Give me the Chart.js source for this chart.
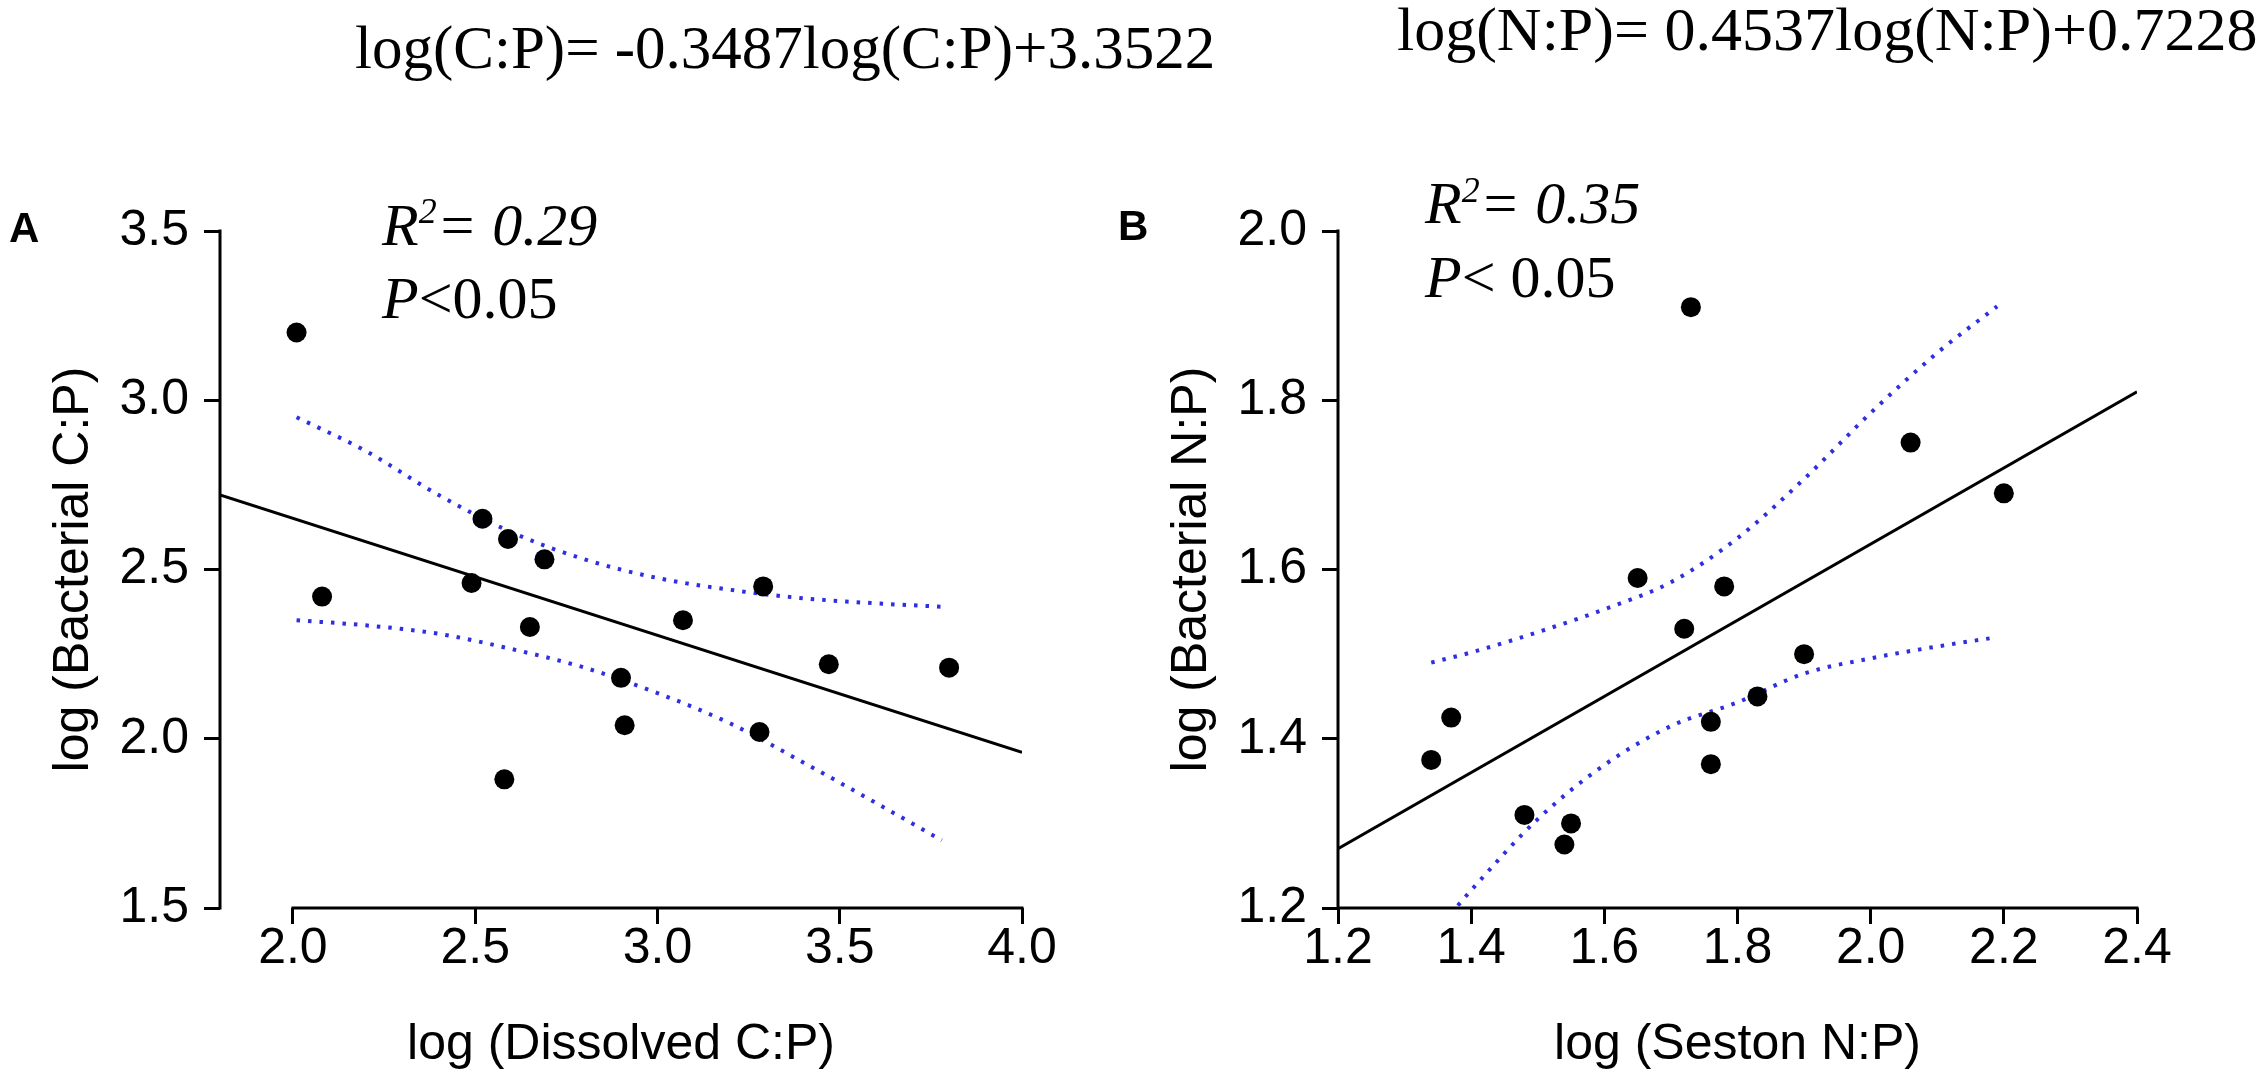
<!DOCTYPE html>
<html>
<head>
<meta charset="utf-8">
<script src="https://cdn.jsdelivr.net/npm/chart.js@4.4.1/dist/chart.umd.min.js"></script>
<style>
  html, body { margin: 0; padding: 0; background: #fff; }
  body { width: 2267px; height: 1085px; position: relative; overflow: hidden; }
  .panel { position: absolute; top: 0; height: 1085px; }
  #boxA { left: 0; width: 1240px; }
  #boxB { left: 1100px; width: 1167px; }
</style>
</head>
<body>
<div class="panel" id="boxA"><canvas id="chartA"></canvas></div>
<div class="panel" id="boxB"><canvas id="chartB"></canvas></div>
<script>
// Panel A: log dissolved C:P vs log bacterial C:P
var dissolvedCP = [2.01, 2.08, 2.52, 2.59, 2.69, 2.49, 2.65, 2.58, 3.07, 3.29, 2.90, 2.91, 3.28, 3.47, 3.80];
var bacterialCP = [3.20, 2.42, 2.65, 2.59, 2.53, 2.46, 2.33, 1.88, 2.35, 2.45, 2.18, 2.04, 2.02, 2.22, 2.21];
var fitAx = [1.8, 4.0];
var fitAy = [2.72, 1.96];
var bandAx = [2.01, 2.2, 2.4, 2.6, 2.8, 3.0, 3.2, 3.4, 3.6, 3.78];
var bandAupper = [2.95, 2.85, 2.72, 2.61, 2.53, 2.475, 2.44, 2.415, 2.40, 2.39];
var bandAlower = [2.35, 2.335, 2.31, 2.265, 2.21, 2.135, 2.045, 1.93, 1.81, 1.70];
var xTicksA = [2.0, 2.5, 3.0, 3.5, 4.0];
var yTicksA = [1.5, 2.0, 2.5, 3.0, 3.5];

// Panel B: log seston N:P vs log bacterial N:P
var sestonNP = [1.73, 2.06, 2.20, 1.65, 1.78, 1.72, 1.90, 1.83, 1.76, 1.76, 1.37, 1.34, 1.48, 1.55, 1.54];
var bacterialNP = [1.91, 1.75, 1.69, 1.59, 1.58, 1.53, 1.50, 1.45, 1.42, 1.37, 1.425, 1.375, 1.31, 1.30, 1.275];
var fitBx = [1.2, 2.4];
var fitBy = [1.27, 1.81];
var bandBxUp = [1.34, 1.4, 1.5, 1.6, 1.7, 1.8, 1.9, 2.0, 2.1, 2.19];
var bandBupper = [1.49, 1.502, 1.526, 1.553, 1.585, 1.637, 1.707, 1.785, 1.856, 1.911];
var bandBxLow = [1.38, 1.4, 1.5, 1.6, 1.7, 1.8, 1.9, 2.0, 2.1, 2.19];
var bandBlower = [1.203, 1.221, 1.305, 1.369, 1.415, 1.443, 1.477, 1.495, 1.509, 1.52];
var xTicksB = [1.2, 1.4, 1.6, 1.8, 2.0, 2.2, 2.4];
var yTicksB = [1.2, 1.4, 1.6, 1.8, 2.0];

var SANS = "'Liberation Sans', Arial, sans-serif";
var SERIF = "'Liberation Serif', 'Times New Roman', serif";
var BLUE = '#2f2fe0';

Chart.defaults.font.family = SANS;
Chart.defaults.color = '#000';

function pts(xs, ys) {
  return xs.map(function (x, i) { return { x: x, y: ys[i] }; });
}

// R-style axis lines: only from the first to the last tick
var axisLines = {
  id: 'axisLines',
  beforeDatasetsDraw: function (chart) {
    var ctx = chart.ctx, area = chart.chartArea;
    var x = chart.scales.x, y = chart.scales.y;
    ctx.save();
    ctx.strokeStyle = '#000';
    ctx.lineWidth = 3;
    ctx.lineCap = 'square';
    ctx.beginPath();
    ctx.moveTo(x.getPixelForValue(x.ticks[0].value), area.bottom);
    ctx.lineTo(x.getPixelForValue(x.ticks[x.ticks.length - 1].value), area.bottom);
    ctx.moveTo(area.left, y.getPixelForValue(y.ticks[0].value));
    ctx.lineTo(area.left, y.getPixelForValue(y.ticks[y.ticks.length - 1].value));
    ctx.stroke();
    ctx.restore();
  }
};

// free text (equations, panel letters, R2 and P)
var notes = {
  id: 'notes',
  afterDraw: function (chart, args, opts) {
    var ctx = chart.ctx;
    ctx.save();
    ctx.fillStyle = '#000';
    ctx.textAlign = 'left';
    ctx.textBaseline = 'alphabetic';
    (opts.items || []).forEach(function (item) {
      var x = item.x;
      item.runs.forEach(function (r) {
        ctx.font = r.font;
        ctx.fillText(r.text, x, item.y + (r.dy || 0));
        x += ctx.measureText(r.text).width;
      });
    });
    ctx.restore();
  }
};

function axis(min, max, ticks, title, size, titlePad, isX) {
  var o = {
    type: 'linear',
    min: min,
    max: max,
    afterBuildTicks: function (s) { s.ticks = ticks.map(function (v) { return { value: v }; }); },
    ticks: {
      autoSkip: false,
      maxRotation: 0,
      padding: isX ? 0 : 15,
      font: { size: 50, lineHeight: 1 },
      callback: function (v) { return Number(v).toFixed(1); }
    },
    grid: {
      drawOnChartArea: false,
      drawTicks: true,
      tickLength: 16,
      tickWidth: 3,
      tickColor: '#000',
      lineWidth: 3,
      color: '#000'
    },
    border: { display: false },
    title: { display: true, text: title, font: { size: 50 }, padding: titlePad }
  };
  if (isX) {
    o.afterFit = function (s) { s.height = size; };
  } else {
    o.afterFit = function (s) { s.width = size; };
  }
  return o;
}

function makeChart(id, cfg) {
  return new Chart(document.getElementById(id), {
    type: 'scatter',
    data: {
      datasets: [
        { data: cfg.points, pointRadius: 10, pointBackgroundColor: '#000', pointBorderWidth: 0, showLine: false },
        { data: cfg.fit, showLine: true, pointRadius: 0, borderColor: '#000', borderWidth: 3 },
        { data: cfg.upper, showLine: true, pointRadius: 0, borderColor: BLUE, borderWidth: 4,
          borderDash: [3.5, 8], cubicInterpolationMode: 'monotone' },
        { data: cfg.lower, showLine: true, pointRadius: 0, borderColor: BLUE, borderWidth: 4,
          borderDash: [3.5, 8], cubicInterpolationMode: 'monotone' }
      ]
    },
    options: {
      responsive: true,
      maintainAspectRatio: false,
      animation: false,
      layout: { padding: cfg.padding },
      scales: { x: cfg.x, y: cfg.y },
      plugins: {
        legend: { display: false },
        tooltip: { enabled: false },
        notes: { items: cfg.notes }
      }
    },
    plugins: [axisLines, notes]
  });
}

makeChart('chartA', {
  points: pts(dissolvedCP, bacterialCP),
  fit: pts(fitAx, fitAy),
  upper: pts(bandAx, bandAupper),
  lower: pts(bandAx, bandAlower),
  padding: { left: 0, top: 231, right: 218, bottom: 0 },
  x: axis(1.8, 4.0, xTicksA, 'log (Dissolved C:P)', 177, { top: 0, bottom: 10 }, true),
  y: axis(1.5, 3.5, yTicksA, 'log (Bacterial C:P)', 220, { top: 44, bottom: 0 }, false),
  notes: [
    { x: 355, y: 68, runs: [{ text: 'log(C:P)= -0.3487log(C:P)+3.3522', font: '61px ' + SERIF }] },
    { x: 9, y: 242, runs: [{ text: 'A', font: 'bold 42px ' + SANS }] },
    { x: 382, y: 245, runs: [
      { text: 'R', font: 'italic 60px ' + SERIF },
      { text: '2', font: 'italic 36px ' + SERIF, dy: -22 },
      { text: '= 0.29', font: 'italic 60px ' + SERIF }] },
    { x: 382, y: 318, runs: [
      { text: 'P', font: 'italic 60px ' + SERIF },
      { text: '<0.05', font: '60px ' + SERIF }] }
  ]
});

makeChart('chartB', {
  points: pts(sestonNP, bacterialNP),
  fit: pts(fitBx, fitBy),
  upper: pts(bandBxUp, bandBupper),
  lower: pts(bandBxLow, bandBlower),
  padding: { left: 0, top: 231, right: 130, bottom: 0 },
  x: axis(1.2, 2.4, xTicksB, 'log (Seston N:P)', 177, { top: 0, bottom: 10 }, true),
  y: axis(1.2, 2.0, yTicksB, 'log (Bacterial N:P)', 238, { top: 62, bottom: 0 }, false),
  notes: [
    { x: 297, y: 50, runs: [{ text: 'log(N:P)= 0.4537log(N:P)+0.7228', font: '62px ' + SERIF }] },
    { x: 18, y: 240, runs: [{ text: 'B', font: 'bold 42px ' + SANS }] },
    { x: 325, y: 223, runs: [
      { text: 'R', font: 'italic 60px ' + SERIF },
      { text: '2', font: 'italic 36px ' + SERIF, dy: -21 },
      { text: '= 0.35', font: 'italic 60px ' + SERIF }] },
    { x: 325, y: 297, runs: [
      { text: 'P', font: 'italic 60px ' + SERIF },
      { text: '< 0.05', font: '60px ' + SERIF }] }
  ]
});
</script>
</body>
</html>
